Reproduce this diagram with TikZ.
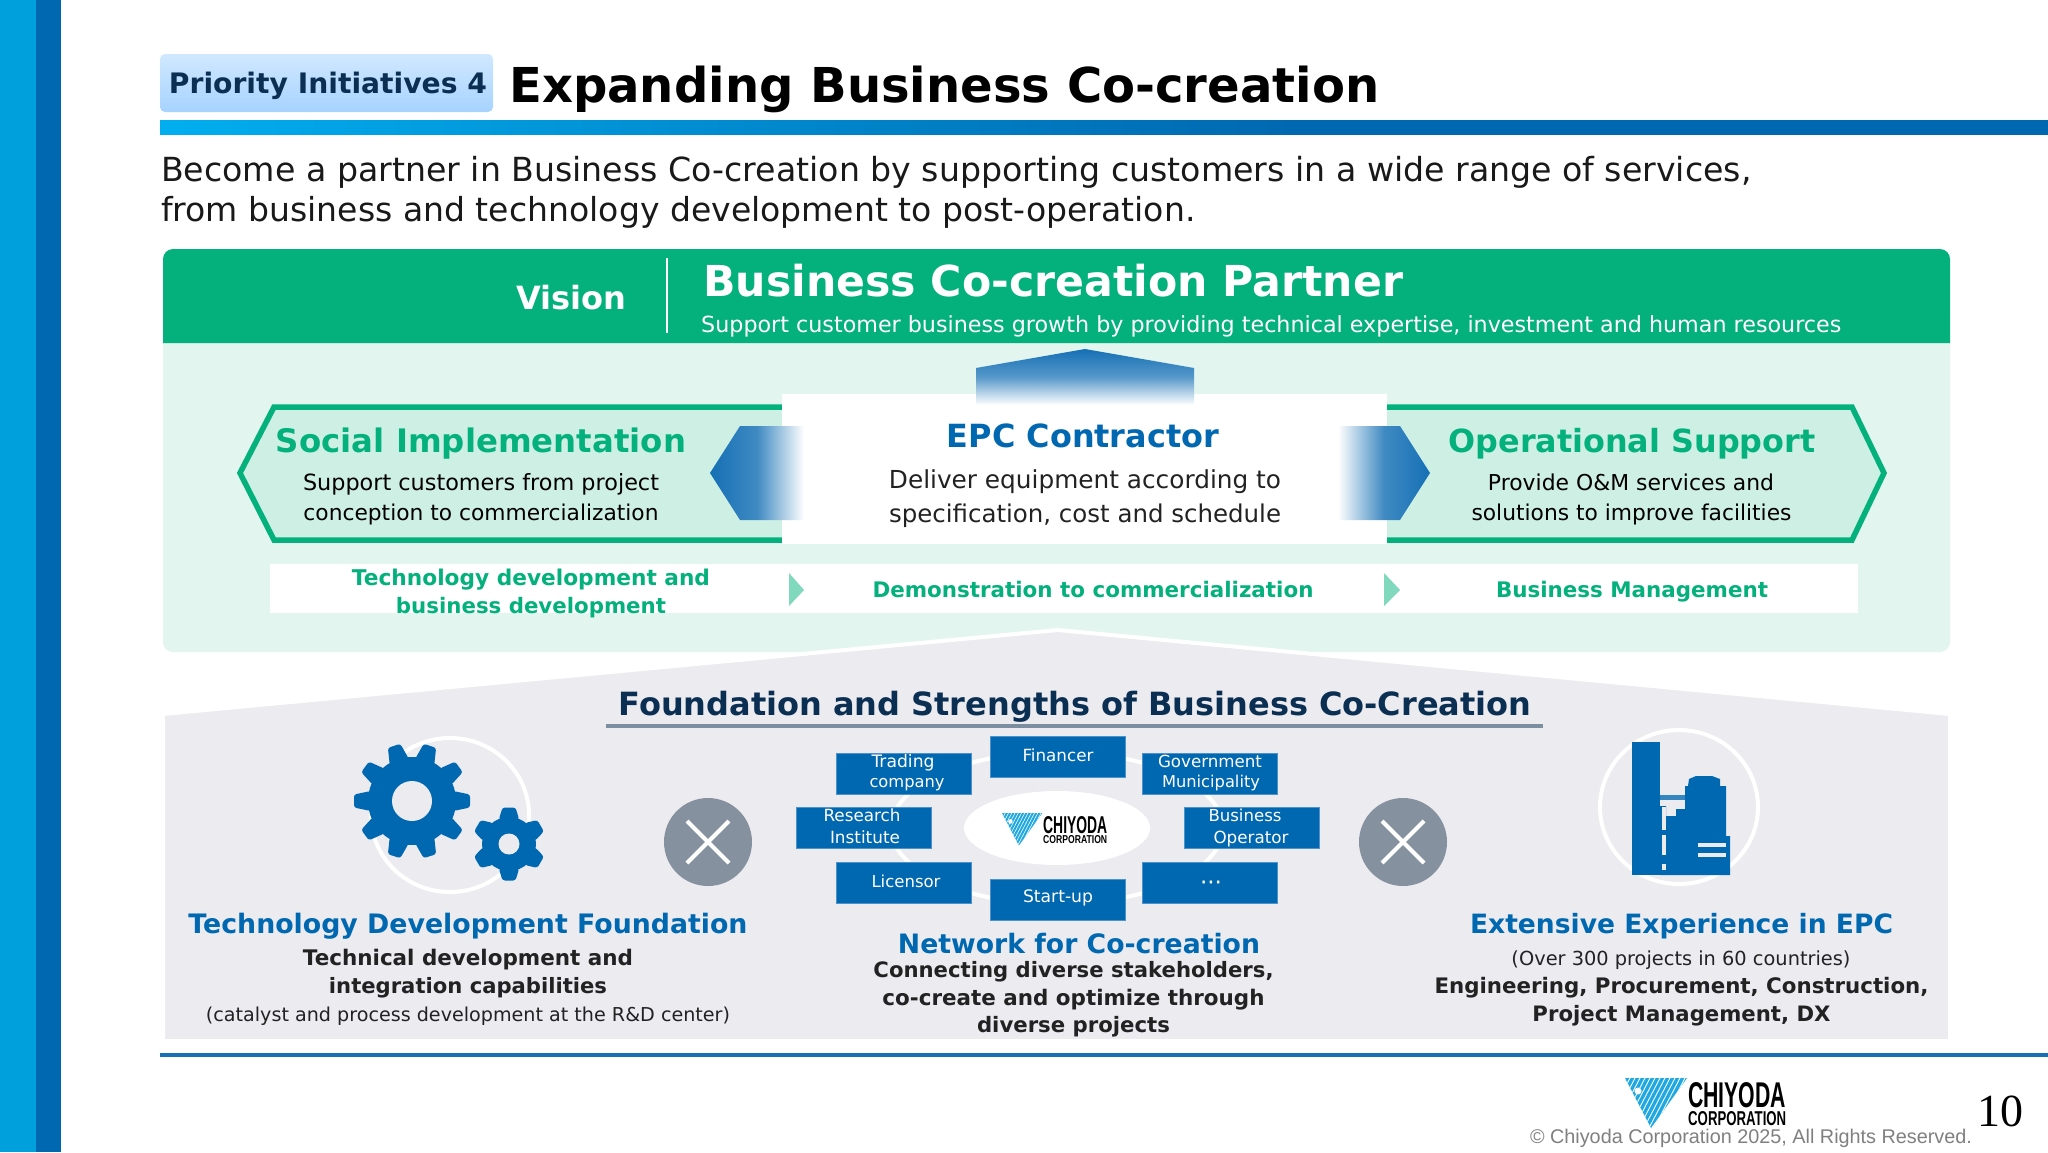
\documentclass[tikz,border=0pt]{standalone}
\usepackage{fontspec}
\usepackage{graphicx}
\setmainfont{DejaVu Sans}
\setsansfont{Liberation Sans}
\newfontfamily\numfont{Liberation Serif}
\definecolor{cyanbar}{HTML}{00A0DC}
\definecolor{bluebar}{HTML}{0068B0}
\definecolor{barstart}{HTML}{00AEEF}
\definecolor{badgetop}{HTML}{D0E8FF}
\definecolor{badgebot}{HTML}{A6D3FF}
\definecolor{grn}{HTML}{04B07C}
\definecolor{bodygrn}{HTML}{E2F5EF}
\definecolor{hexfill}{HTML}{CEF0E4}
\definecolor{trigrn}{HTML}{80D8BD}
\definecolor{arrowblue}{HTML}{1570B5}
\definecolor{graybg}{HTML}{EBEBF0}
\definecolor{navy}{HTML}{0B2F52}
\definecolor{underl}{HTML}{7B8FA1}
\definecolor{crossgray}{HTML}{86919F}
\definecolor{dark}{HTML}{222222}
\definecolor{boxedge}{HTML}{4D92CC}
\definecolor{logocyan}{HTML}{1FA8E1}
\pgfdeclarehorizontalshading{titlebar}{100bp}{color(0bp)=(barstart); color(25bp)=(barstart); color(55bp)=(bluebar); color(100bp)=(bluebar)}
\tikzset{
  txt/.style={inner sep=0pt,anchor=base},
  txtl/.style={inner sep=0pt,anchor=base west},
  regtext/.style={txt,text=black},
  boldgrn/.style={txt,text=grn,font=\bfseries},
  boldblue/.style={txt,text=bluebar,font=\bfseries},
  bolddark/.style={txt,text=dark,font=\bfseries},
  regdark/.style={txt,text=dark},
  boxtext/.style={txt,text=white},
  netbox/.style={draw=boxedge,line width=1pt,fill=bluebar},
  ring/.style={draw=white,line width=4pt},
  blade/.style={line width=4pt,draw=white,line cap=butt}
}
\newcommand{\tx}[6]{\node[#5] (#1) at (#2,#3) {\resizebox{#4pt}{!}{#6}};}
\newcommand{\gearicon}[8]{% x y body out n tiphalf hole start
  \begin{scope}[shift={(#1,#2)}]
    \fill[bluebar] (0,0) circle (#3pt);
    \pgfmathsetmacro{\gstep}{360/#5}
    \pgfmathsetmacro{\gbase}{1.45*#6}
    \foreach \gi in {1,...,#5}{
      \pgfmathsetmacro{\gang}{#8+\gi*\gstep}
      \begin{scope}[rotate=\gang]
        \fill[bluebar] (#3-3,\gbase) -- (#3,\gbase) [rounded corners=2.5pt] -- (#4,#6) -- (#4,-#6) [sharp corners] -- (#3,-\gbase) -- (#3-3,-\gbase) -- cycle;
      \end{scope}
    }
    \fill[graybg] (0,0) circle (#7pt);
  \end{scope}}
\newcommand{\crossmark}[2]{%
  \fill[crossgray] (#1,#2) circle (44pt);
  \draw[blade] (#1-21,#2-21) -- (#1+21,#2+21);
  \draw[blade] (#1-21,#2+21) -- (#1+21,#2-21);}
\newcommand{\chlogo}[3]{%
  \begin{scope}[shift={(#1,#2)},x=#3pt,y=-#3pt]
    \fill[logocyan] (0,0) -- (62,0) -- (26,50) -- cycle;
    \begin{scope}
      \clip (0,0) -- (62,0) -- (26,50) -- cycle;
      \foreach \li in {0,5,...,90}{
        \draw[white,line width=#3*0.9pt] (\li,0) -- (\li-26,50);
      }
    \end{scope}
    \fill[white] (13,13) circle (#3*3.5pt);
  \end{scope}}
\begin{document}
\begin{tikzpicture}[x=1pt,y=-1pt]
\useasboundingbox (0,0) rectangle (2048,1152);
\fill[white] (0,0) rectangle (2048,1152);
% side bars
\fill[cyanbar] (0,0) rectangle (36,1152);
\fill[bluebar] (36,0) rectangle (61,1152);
% title
\shade[top color=badgetop,bottom color=badgebot,rounded corners=5pt] (160,54) rectangle (493,112);
\tx{badge}{328}{93}{318}{txt,text=navy,font=\bfseries}{Priority Initiatives 4}
\tx{title}{509}{102}{870}{txtl,text=black,font=\bfseries}{Expanding Business Co-creation}
\shade[shading=titlebar] (160,120) rectangle (2048,134);
\tx{sub1}{161}{181}{1590}{txtl,text=black!90}{Become a partner in Business Co-creation by supporting customers in a wide range of services,}
\tx{sub2}{161}{221}{1034}{txtl,text=black!90}{from business and technology development to post-operation.}
% vision panel
\fill[bodygrn,rounded corners=10pt] (163,300) rectangle (1950,652);
\fill[grn] (163,343) [rounded corners=10pt] -- (163,249) -- (1950,249) [sharp corners] -- (1950,343) -- cycle;
\tx{vision}{571}{309}{110}{txt,text=white,font=\bfseries}{Vision}
\draw[white,line width=1.5pt] (667,258) -- (667,333);
\tx{vtitle}{703}{296}{700}{txtl,text=white,font=\bfseries}{Business Co-creation Partner}
\tx{vsub}{701}{332}{1140}{txtl,text=white}{Support customer business growth by providing technical expertise, investment and human resources}
% hexes
\filldraw[fill=hexfill,draw=grn,line width=5.5pt,miter limit=10] (240,473) -- (274,407) -- (800,407) -- (800,540) -- (274,540) -- cycle;
\filldraw[fill=hexfill,draw=grn,line width=5.5pt,miter limit=10] (1884,473) -- (1852,407) -- (1370,407) -- (1370,540) -- (1852,540) -- cycle;
% centre
\fill[white] (782,394) rectangle (1387,544);
\shade[top color=arrowblue,bottom color=white,middle color=arrowblue!72!white] (976,368) -- (1085,349) -- (1194,368) -- (1194,405) -- (976,405) -- cycle;
\shade[left color=arrowblue,right color=white,middle color=arrowblue!82!white] (710,473) -- (740,426) -- (804,426) -- (804,520) -- (740,520) -- cycle;
\shade[left color=white,right color=arrowblue,middle color=arrowblue!82!white] (1430,473) -- (1400,426) -- (1338,426) -- (1338,520) -- (1400,520) -- cycle;
\tx{social}{481}{452}{410}{boldgrn}{Social Implementation}
\tx{socA}{481}{490}{356}{regtext}{Support customers from project}
\tx{socB}{481}{520}{355}{regtext}{conception to commercialization}
\tx{epc}{1083}{447}{272}{boldblue}{EPC Contractor}
\tx{epcA}{1085}{488}{392}{regdark}{Deliver equipment according to}
\tx{epcB}{1085}{522}{392}{regdark}{specification, cost and schedule}
\tx{oper}{1632}{452}{367}{boldgrn}{Operational Support}
\tx{opA}{1631}{490}{286}{regtext}{Provide O\&M services and}
\tx{opB}{1631.5}{520}{320}{regtext}{solutions to improve facilities}
% strip
\fill[white] (270,564) rectangle (1858,613);
\fill[trigrn] (789,573) -- (804,590) -- (789,606) -- cycle;
\fill[trigrn] (1384,573) -- (1400,590) -- (1384,606) -- cycle;
\tx{stA}{531}{585}{358}{boldgrn}{Technology development and}
\tx{stB}{531}{613}{270}{boldgrn}{business development}
\tx{stC}{1093}{597}{441}{boldgrn}{Demonstration to commercialization}
\tx{stD}{1632}{597}{272}{boldgrn}{Business Management}
% foundation
\filldraw[fill=graybg,draw=white,line width=4pt] (163,1041) -- (163,714) -- (1058,630) -- (1950,714) -- (1950,1041) -- cycle;
\tx{found}{1075}{715}{913}{txt,text=navy,font=\bfseries}{Foundation and Strengths of Business Co-Creation}
\draw[underl,line width=3.5pt] (606,726) -- (1543,726);
% gears
\draw[ring] (450,815) ellipse (79pt and 77pt);
\gearicon{412}{801}{44}{58}{10}{6.5}{20}{0}
\gearicon{509}{844}{27}{36.5}{6}{6.5}{10.5}{30}
\crossmark{708}{842}
\crossmark{1403}{842}
\tx{tdf}{468}{933}{559}{boldblue}{Technology Development Foundation}
\tx{tdA}{468}{965}{330}{bolddark}{Technical development and}
\tx{tdB}{468}{993}{278}{bolddark}{integration capabilities}
\tx{tdC}{468}{1021}{524}{regdark}{(catalyst and process development at the R\&D center)}
% network
\draw[ring] (1057,828) ellipse (166pt and 76pt);
\fill[white] (1057,828) ellipse (93pt and 37pt);
\node[netbox,minimum width=135pt,minimum height=41pt,inner sep=0pt] (bFin) at (1058,756.5) {};
\node[netbox,minimum width=135pt,minimum height=41pt,inner sep=0pt] (bTra) at (904,773.5) {};
\node[netbox,minimum width=135pt,minimum height=41pt,inner sep=0pt] (bGov) at (1210,773.5) {};
\node[netbox,minimum width=135pt,minimum height=41pt,inner sep=0pt] (bRes) at (864,827.5) {};
\node[netbox,minimum width=135pt,minimum height=41pt,inner sep=0pt] (bBus) at (1251.5,827.5) {};
\node[netbox,minimum width=135pt,minimum height=41pt,inner sep=0pt] (bLic) at (904,882.5) {};
\node[netbox,minimum width=135pt,minimum height=41pt,inner sep=0pt] (bDot) at (1210,882.5) {};
\node[netbox,minimum width=135pt,minimum height=41pt,inner sep=0pt] (bSta) at (1058,900) {};
\tx{tFin}{1058}{761}{71}{boxtext}{Financer}
\tx{tTraA}{903}{767}{63}{boxtext}{Trading}
\tx{tTraB}{907}{787}{75}{boxtext}{company}
\tx{tGovA}{1210}{767}{104}{boxtext}{Government}
\tx{tGovB}{1211}{787}{98}{boxtext}{Municipality}
\tx{tResA}{862}{821}{77}{boxtext}{Research}
\tx{tResB}{865}{843}{70}{boxtext}{Institute}
\tx{tBusA}{1245}{821}{73}{boxtext}{Business}
\tx{tBusB}{1251}{843}{75}{boxtext}{Operator}
\tx{tLic}{906}{887}{69}{boxtext}{Licensor}
\tx{tDot}{1211}{890}{22}{boxtext}{···}
\tx{tSta}{1058}{902}{70}{boxtext}{Start-up}
\chlogo{1002}{813}{0.65}
\node[txtl] (lgA) at (1043,833) {\resizebox{64pt}{17pt}{\sffamily\bfseries CHIYODA}};
\node[txtl] (lgB) at (1043,843) {\resizebox{64pt}{8pt}{\sffamily\bfseries CORPORATION}};
\tx{nwT}{1079}{953}{362}{boldblue}{Network for Co-creation}
\tx{nwA}{1073.5}{977}{400}{bolddark}{Connecting diverse stakeholders,}
\tx{nwB}{1073.5}{1005}{382}{bolddark}{co-create and optimize through}
\tx{nwC}{1073.5}{1032}{193}{bolddark}{diverse projects}
% factory
\draw[ring] (1679,807) ellipse (79pt and 77pt);
\fill[bluebar] (1632,742) rectangle (1660,875);
\fill[bluebar!80!white] (1660,795) rectangle (1686,800);
\fill[bluebar] (1660,806) -- (1660,875) -- (1730,875) -- (1730,836) -- (1726,836) -- (1726,786) -- (1720,786) -- (1720,779) -- (1712,776) -- (1696,776) -- (1689,779) -- (1688,786) -- (1685,786) -- (1685,809) -- (1676,809) -- (1676,816) -- (1666,816) -- (1666,806) -- cycle;
\fill[graybg] (1661.5,807) rectangle (1666,830);
\fill[graybg] (1661.5,835) rectangle (1666,855);
\fill[graybg] (1661.5,864) rectangle (1666,870);
\fill[graybg] (1697.5,843) rectangle (1726,847);
\fill[graybg] (1697.5,853) rectangle (1726,856.5);
\tx{epT}{1681.5}{933}{423}{boldblue}{Extensive Experience in EPC}
\tx{epA}{1681}{965}{339}{regdark}{(Over 300 projects in 60 countries)}
\tx{epB}{1681.5}{993}{494}{bolddark}{Engineering, Procurement, Construction,}
\tx{epC}{1681.5}{1021}{298}{bolddark}{Project Management, DX}
% footer
\draw[arrowblue,line width=4pt] (160,1055) -- (2048,1055);
\chlogo{1625}{1078}{1}
\node[txtl] (flA) at (1688,1107) {\resizebox{98pt}{25pt}{\sffamily\bfseries CHIYODA}};
\node[txtl] (flB) at (1688,1125) {\resizebox{98pt}{14pt}{\sffamily\bfseries CORPORATION}};
\tx{copy}{1751}{1143}{442}{txt,text=black!50,font=\sffamily}{© Chiyoda Corporation 2025, All Rights Reserved.}
\tx{pageno}{2000}{1126}{46}{txt,text=black,font=\numfont}{10}
\end{tikzpicture}
\end{document}
